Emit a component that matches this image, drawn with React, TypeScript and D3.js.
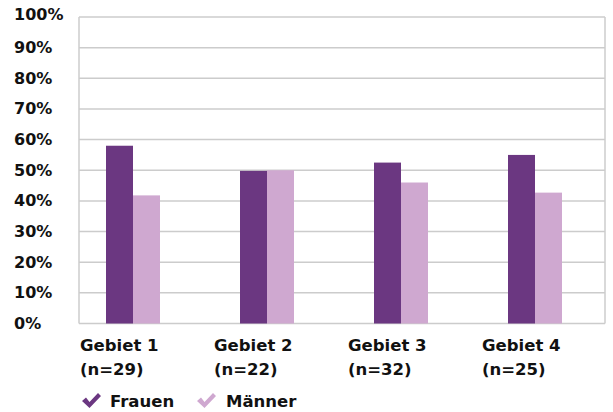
import React from "react";
import * as d3 from "d3";

const categories = ["Gebiet 1", "Gebiet 2", "Gebiet 3", "Gebiet 4"];
const sampleSizes = ["(n=29)", "(n=22)", "(n=32)", "(n=25)"];
const seriesNames = ["Frauen", "Männer"];
const frauen = [58, 49.8, 52.5, 55];
const maenner = [41.8, 50, 46, 42.7];
const yTicks = [0, 10, 20, 30, 40, 50, 60, 70, 80, 90, 100];
const colors = ["#6b3781", "#cfa8d0"];

const W = 613;
const H = 412;
const plotLeft = 79;
const plotRight = 605;
const plotTop = 17;
const plotBottom = 323.5;
const FONT = "'DejaVu Sans', sans-serif";

export default function App() {
  const y = d3.scaleLinear().domain([0, 100]).range([plotBottom, plotTop]);
  const x = d3.scaleBand<string>().domain(categories).range([72, 608]).padding(0);
  const xs = d3.scaleBand<string>().domain(seriesNames).range([34, 88]).padding(0);
  const values = [frauen, maenner];

  const check = (cx: number, cy: number) =>
    `M${cx - 9},${cy - 1} L${cx - 5},${cy - 4.5} L${cx - 1.5},${cy} L${cx + 7},${cy - 9} L${cx + 10},${cy - 6} L${cx - 1.5},${cy + 6} Z`;

  return (
    <svg width={W} height={H} style={{ position: "absolute", left: 0, top: 0, background: "#fff" }}>
      <rect x={0} y={0} width={W} height={H} fill="#fff" />
      {yTicks.map((t) => (
        <line key={t} x1={plotLeft} x2={plotRight} y1={y(t)} y2={y(t)} stroke="#cccccc" strokeWidth={1.5} />
      ))}
      <line x1={plotLeft} x2={plotLeft} y1={plotTop} y2={plotBottom} stroke="#cccccc" strokeWidth={1.5} />
      <line x1={plotRight} x2={plotRight} y1={plotTop} y2={plotBottom} stroke="#cccccc" strokeWidth={1.5} />
      {yTicks.map((t) => (
        <text
          key={"l" + t}
          x={14}
          y={y(t) + (t === 100 ? 3 : 5.5)}
          fontFamily={FONT}
          fontWeight="bold"
          fontSize={16}
          fill="#111"
        >
          {t}%
        </text>
      ))}
      {categories.map((c, i) =>
        seriesNames.map((s, j) => (
          <rect
            key={c + s}
            x={(x(c) as number) + (xs(s) as number)}
            y={y(values[j][i])}
            width={xs.bandwidth()}
            height={plotBottom - y(values[j][i])}
            fill={colors[j]}
          />
        ))
      )}
      {categories.map((c, i) => (
        <g key={"c" + c} fontFamily={FONT} fontWeight="bold" fontSize={16.5} fill="#111">
          <text x={(x(c) as number) + 8} y={351}>{c}</text>
          <text x={(x(c) as number) + 8} y={375}>{sampleSizes[i]}</text>
        </g>
      ))}
      <g fontFamily={FONT} fontWeight="bold" fontSize={16.5} fill="#111">
        <path d={check(91, 402)} fill={colors[0]} />
        <text x={110} y={407}>{seriesNames[0]}</text>
        <path d={check(206, 402)} fill={colors[1]} />
        <text x={226} y={407}>{seriesNames[1]}</text>
      </g>
    </svg>
  );
}
